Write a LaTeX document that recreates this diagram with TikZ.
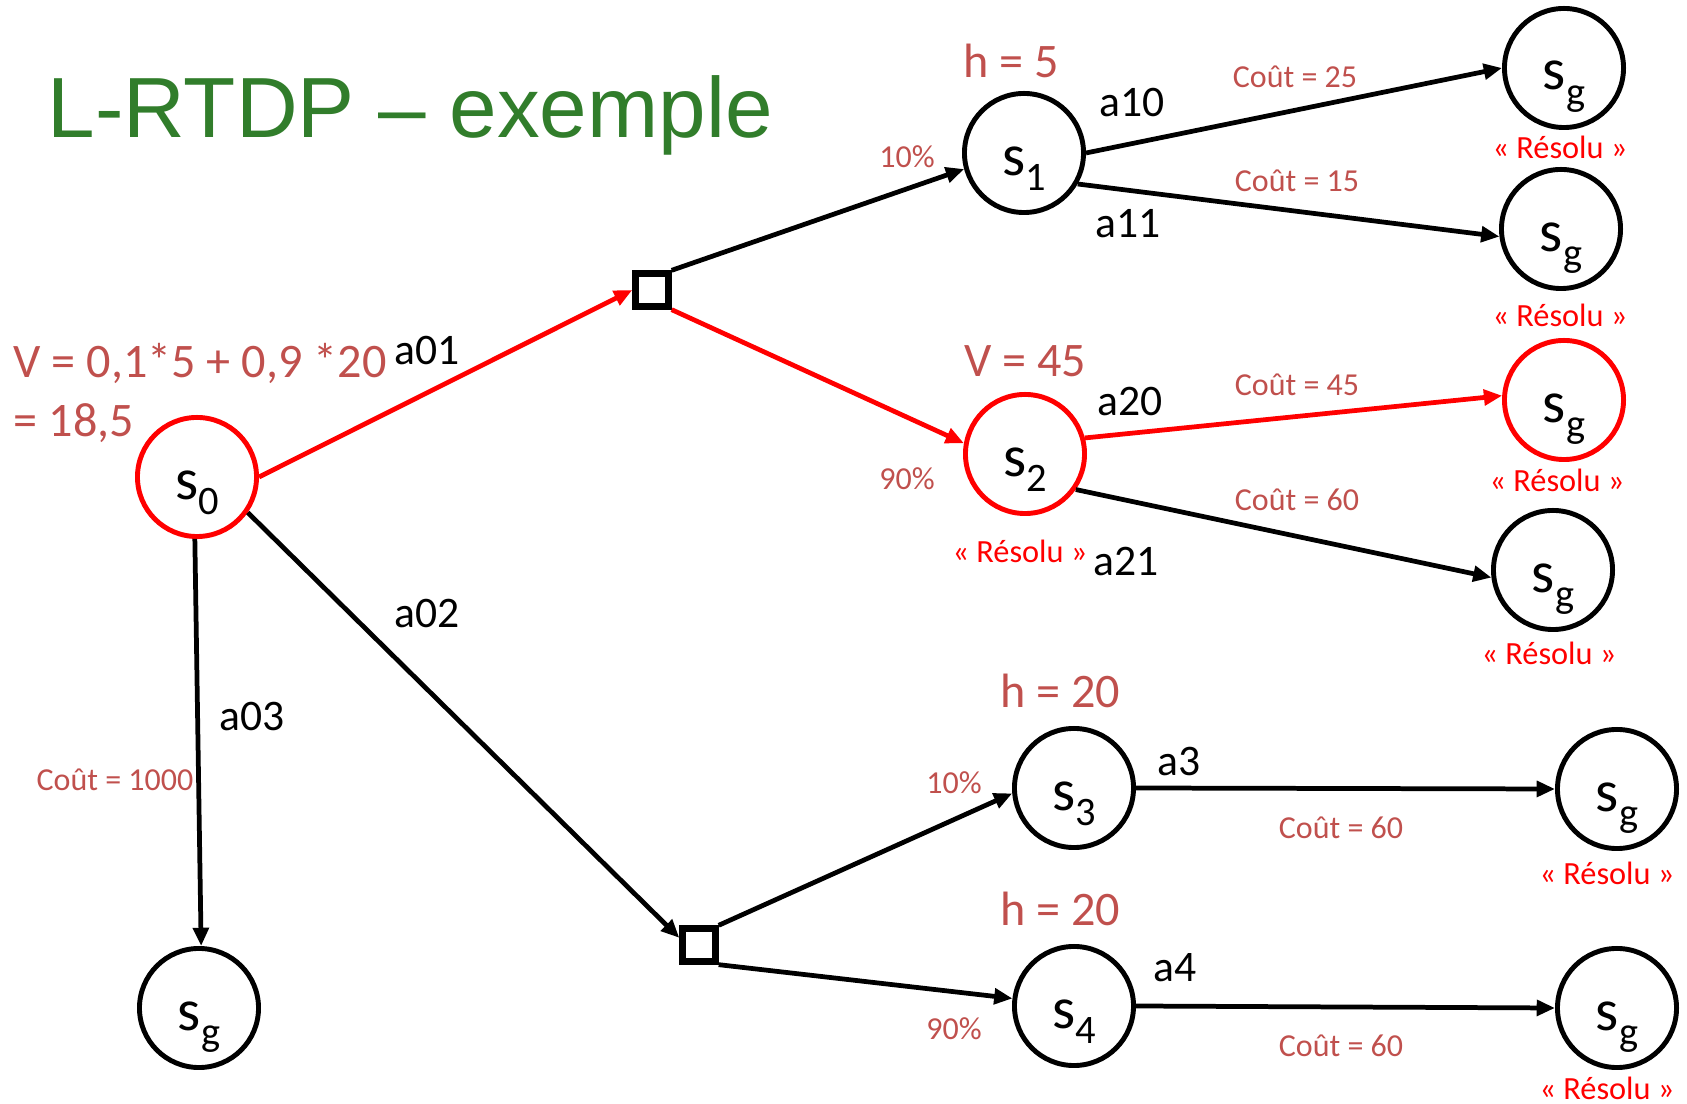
\documentclass[tikz,border=0pt]{standalone}
\usepackage{fontspec}
\setmainfont{Carlito}
\newfontfamily\titlefont{Liberation Sans}
\usetikzlibrary{arrows.meta,positioning}
\definecolor{costred}{RGB}{192,80,77}
\definecolor{titlegreen}{RGB}{49,125,43}
\newcommand{\sidx}[1]{s\raisebox{-4.5pt}{\fontsize{11.5}{12}\selectfont #1}}
\tikzset{
  state/.style={circle, draw, line width=1.4pt, minimum size=1.19cm, inner sep=0pt,
                text height=6mm, text depth=1.6mm, font=\fontsize{16.8}{18}\selectfont},
  redstate/.style={state, draw=red},
  chance/.style={draw, line width=1.8pt, minimum size=0.33cm, inner sep=0pt},
  arrow/.style={-{Triangle[length=5.2pt,width=4.4pt]}, line width=1.35pt},
  redarrow/.style={arrow, red},
  act/.style={inner sep=0pt, font=\fontsize{12.4}{14}\selectfont},
  cost/.style={inner sep=0pt, text=costred, font=\fontsize{9.1}{11}\selectfont},
  heur/.style={inner sep=0pt, text=costred, font=\fontsize{13.7}{16.6}\selectfont},
  resolu/.style={inner sep=0pt, text=red, font=\fontsize{9.2}{11}\selectfont},
}

\begin{document}
\begin{tikzpicture}[x=0.01cm, y=-0.01cm]
  \useasboundingbox (0,0) rectangle (1687,1104);
  % title
  \node[anchor=base west, inner sep=0pt, text=titlegreen,
        font=\titlefont\fontsize{24.3}{28}\selectfont] (title) at (47,138) {L-RTDP – exemple};

  % states
  \node[redstate] (s0) at (197,477) {\sidx{0}};
  \node[state] (sg0) at (199,1008) {\sidx{g}};
  \node[state] (s1) at (1024,153) {\sidx{1}};
  \node[redstate] (s2) at (1025,454) {\sidx{2}};
  \node[state] (s3) at (1074,788) {\sidx{3}};
  \node[state] (s4) at (1074,1006) {\sidx{4}};
  \node[state] (g1) at (1564,68) {\sidx{g}};
  \node[state] (g2) at (1561,229) {\sidx{g}};
  \node[redstate] (g3) at (1564,400) {\sidx{g}};
  \node[state] (g4) at (1553,570) {\sidx{g}};
  \node[state] (g5) at (1617,789) {\sidx{g}};
  \node[state] (g6) at (1617,1008) {\sidx{g}};

  % chance nodes
  \node[chance] (c1) at (652,290) {};
  \node[chance] (c2) at (699,945) {};

  % actions from s0
  \draw[redarrow] (s0.east) -- (c1.west);
  \draw[arrow] (s0.-35) -- (c2.160);
  \draw[arrow] (s0.-92) -- (sg0.88);

  % outcomes
  \draw[arrow] (c1.north east) -- (s1.195);
  \draw[redarrow] (c1.south east) -- (s2.170);
  \draw[arrow] (c2.north east) -- (s3.185);
  \draw[arrow] (c2.south east) -- (s4.173);

  % actions to goal
  \draw[arrow] (s1.east) -- (g1.west);
  \draw[arrow] (s1.-30) -- (g2.187);
  \draw[redarrow] (s2.15) -- (g3.176);
  \draw[arrow] (s2.-35) -- (g4.187);
  \draw[arrow] (s3.east) -- (g5.west);
  \draw[arrow] (s4.east) -- (g6.west);

  % action names
  \node[act] (a01) at (427,351) {a01};
  \node[act] (a02) at (427,614) {a02};
  \node[act] (a03) at (252,717) {a03};
  \node[act] (a10) at (1132,103) {a10};
  \node[act] (a11) at (1128,224) {a11};
  \node[act] (a20) at (1130,402) {a20};
  \node[act] (a21) at (1126,562) {a21};
  \node[act] (a3) at (1179,762) {a3};
  \node[act] (a4) at (1175,968) {a4};

  % costs and probabilities
  \node[cost] (k03) at (115,780) {Coût = 1000};
  \node[cost] (k10) at (1295,77) {Coût = 25};
  \node[cost] (k11) at (1297,181) {Coût = 15};
  \node[cost] (k20) at (1297,385) {Coût = 45};
  \node[cost] (k21) at (1297,500) {Coût = 60};
  \node[cost] (k3) at (1341,828) {Coût = 60};
  \node[cost] (k4) at (1341,1046) {Coût = 60};
  \node[cost] (p1) at (907,157) {10\%};
  \node[cost] (p2) at (907,479) {90\%};
  \node[cost] (p3) at (954,783) {10\%};
  \node[cost] (p4) at (954,1029) {90\%};

  % values
  \node[heur, align=left, anchor=west] (v0) at (13,393) {V = 0,1*5 + 0,9 *20\\= 18,5};
  \node[heur] (h1) at (1011,61) {h = 5};
  \node[heur] (v2) at (1025,361) {V = 45};
  \node[heur] (h3) at (1060,691) {h = 20};
  \node[heur] (h4) at (1060,909) {h = 20};

  % solved
  \node[resolu] (r2) at (1020,551) {«~Résolu~»};
  \node[resolu] (rg1) at (1560,147) {«~Résolu~»};
  \node[resolu] (rg2) at (1560,315) {«~Résolu~»};
  \node[resolu] (rg3) at (1557,480) {«~Résolu~»};
  \node[resolu] (rg4) at (1549,653) {«~Résolu~»};
  \node[resolu] (rg5) at (1607,873) {«~Résolu~»};
  \node[resolu] (rg6) at (1607,1088) {«~Résolu~»};
\end{tikzpicture}
\end{document}
